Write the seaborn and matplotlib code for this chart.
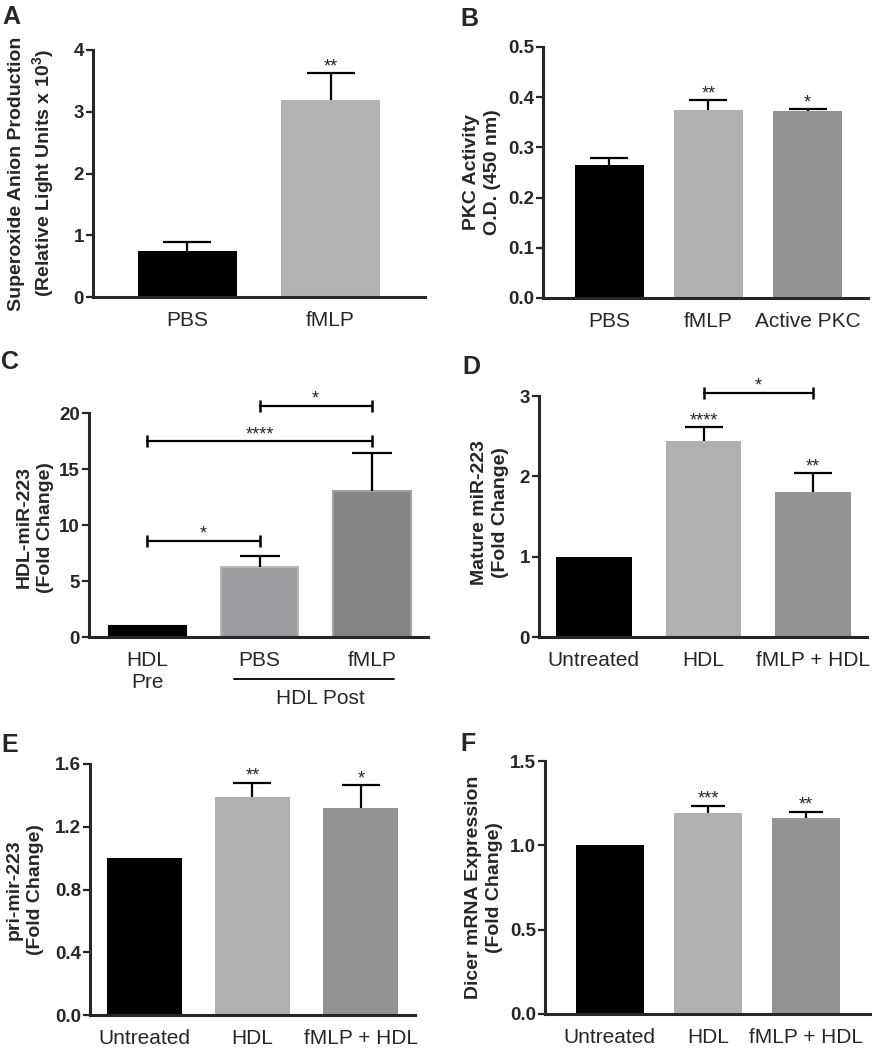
import numpy as np
import pandas as pd
import seaborn as sns
import matplotlib.pyplot as plt
import matplotlib.transforms as mtransforms

sns.set_style("ticks")
plt.rcParams['font.family'] = ['Liberation Sans', 'DejaVu Sans']
plt.rcParams['mathtext.fontset'] = 'custom'
plt.rcParams['mathtext.rm'] = 'Liberation Sans'
plt.rcParams['mathtext.bf'] = 'Liberation Sans:bold'

# A - superoxide anion production
a_groups = ["PBS", "fMLP"]
a_mean = [0.75, 3.19]
a_sem = [0.14, 0.43]
a_stars = ["", "**"]
a_colors = ["#000000", "#b2b2b4"]

# B - PKC activity
b_groups = ["PBS", "fMLP", "Active PKC"]
b_mean = [0.264, 0.375, 0.372]
b_sem = [0.014, 0.019, 0.004]
b_stars = ["", "**", "*"]
b_colors = ["#000000", "#b1b1b1", "#939393"]

# C - HDL-miR-223
c_groups = ["HDL\nPre", "PBS", "fMLP"]
c_mean = [1.0, 6.27, 13.04]
c_sem = [0.0, 0.95, 3.36]
c_stars = ["", "", ""]
c_colors = ["#000000", "#9c9ca0", "#858585"]
c_edges = ["#000000", "#b8b8b8", "#a3a3a3"]
c_brackets = [(1, 2, 20.66, "*"), (0, 2, 17.46, "****"), (0, 1, 8.6, "*")]

# D - mature miR-223
d_groups = ["Untreated", "HDL", "fMLP + HDL"]
d_mean = [1.0, 2.44, 1.80]
d_sem = [0.0, 0.17, 0.24]
d_stars = ["", "****", "**"]
d_colors = ["#000000", "#b0b0b2", "#939393"]
d_brackets = [(1, 2, 3.04, "*")]

# E - pri-mir-223
e_groups = ["Untreated", "HDL", "fMLP + HDL"]
e_mean = [1.0, 1.39, 1.32]
e_sem = [0.0, 0.09, 0.145]
e_stars = ["", "**", "*"]
e_colors = ["#000000", "#b0b0b2", "#939393"]

# F - Dicer mRNA
f_groups = ["Untreated", "HDL", "fMLP + HDL"]
f_mean = [1.0, 1.19, 1.16]
f_sem = [0.0, 0.045, 0.04]
f_stars = ["", "***", "**"]
f_colors = ["#000000", "#b0b0b2", "#939393"]


def draw_panel(ax, groups, means, sems, colors, stars, yticks, fmt, ylabel,
               label_x, label_y, xlim, capsize):
    df = pd.DataFrame({"group": groups, "value": means})
    sns.barplot(data=df, x="group", y="value", hue="group", order=groups,
                hue_order=groups, palette=colors, width=0.69, legend=False,
                saturation=1, errorbar=None, linewidth=0, ax=ax)
    for i, (m, s, st) in enumerate(zip(means, sems, stars)):
        if s > 0:
            eb = ax.errorbar(i, m, yerr=[[0], [s]], fmt="none", ecolor="black",
                             elinewidth=1.6, capsize=capsize, capthick=1.6,
                             zorder=3)
            # one-sided bar: hide the cap sitting on the bar top
            for cap in eb[1]:
                if np.allclose(cap.get_ydata(), m):
                    cap.set_visible(False)
        if st:
            ax.annotate(st, (i, m + s), xytext=(0, 1.5), textcoords="offset points",
                        ha="center", va="baseline", fontsize=13)
    ax.set_xlim(*xlim)
    ax.set_ylim(yticks[0], yticks[-1])
    ax.set_yticks(yticks)
    ax.set_yticklabels([fmt.format(t) for t in yticks], fontsize=13.5,
                       fontweight="bold")
    ax.set_xticks(range(len(groups)))
    ax.set_xticklabels(groups, fontsize=15)
    ax.tick_params(axis="x", length=0, pad=10)
    ax.tick_params(axis="y", length=5, width=1.6, pad=1.5)
    ax.set_xlabel("")
    ax.set_ylabel(ylabel, fontsize=14, fontweight="bold", linespacing=1.3)
    ax.yaxis.set_label_coords(label_x, label_y)
    sns.despine(ax=ax)
    for side in ["left", "bottom"]:
        ax.spines[side].set_linewidth(2.2)


def draw_brackets(ax, brackets):
    for x1, x2, y, st in brackets:
        ax.plot([x1, x2], [y, y], color="black", lw=1.6, marker="|",
                markersize=9, markeredgewidth=1.8, clip_on=False)
        ax.annotate(st, ((x1 + x2) / 2, y), xytext=(0, 1.5),
                    textcoords="offset points", ha="center", va="baseline",
                    fontsize=13, annotation_clip=False)


fig = plt.figure(figsize=(8.78, 10.5), dpi=100)
W, H = 878, 1050


def add_axes(left, right, top, bottom):
    return fig.add_axes([left / W, 1 - bottom / H, (right - left) / W,
                         (bottom - top) / H])


axA = add_axes(93, 425, 50, 297)
axB = add_axes(543, 868, 47, 298)
axC = add_axes(89, 428, 413, 637)
axD = add_axes(539, 867, 396, 637)
axE = add_axes(90, 415, 764, 1015)
axF = add_axes(545, 870, 761, 1014)

draw_panel(axA, a_groups, a_mean, a_sem, a_colors, a_stars, [0, 1, 2, 3, 4],
           "{:g}", "Superoxide Anion Production\n(Relative Light Units x 10$^{\\mathbf{3}}$)",
           -0.108, 0.5, (-0.66, 1.66), 17)
draw_panel(axB, b_groups, b_mean, b_sem, b_colors, b_stars,
           [0, 0.1, 0.2, 0.3, 0.4, 0.5], "{:.1f}", "PKC Activity\nO.D. (450 nm)",
           -0.13, 0.5, (-0.67, 2.61), 14)
draw_panel(axC, c_groups, c_mean, c_sem, c_colors, c_stars, [0, 5, 10, 15, 20],
           "{:g}", "HDL-miR-223\n(Fold Change)", -0.104, 0.49, (-0.52, 2.5), 14.4)
for patch, ec in zip(axC.patches, c_edges):
    patch.set_edgecolor(ec)
    patch.set_linewidth(1.5)
draw_brackets(axC, c_brackets)
trans = mtransforms.blended_transform_factory(axC.transData, axC.transAxes)
axC.plot([0.77, 2.2], [-0.1875, -0.1875], color="black", lw=1.3,
         transform=trans, clip_on=False)
axC.text(1.54, -0.275, "HDL Post", transform=trans, ha="center", va="center",
         fontsize=15)

draw_panel(axD, d_groups, d_mean, d_sem, d_colors, d_stars, [0, 1, 2, 3],
           "{:g}", "Mature miR-223\n(Fold Change)", -0.092, 0.517, (-0.5, 2.49), 13.6)
draw_brackets(axD, d_brackets)
draw_panel(axE, e_groups, e_mean, e_sem, e_colors, e_stars,
           [0, 0.4, 0.8, 1.2, 1.6], "{:.1f}", "pri-mir-223\n(Fold Change)",
           -0.142, 0.5, (-0.5, 2.5), 13.5)
draw_panel(axF, f_groups, f_mean, f_sem, f_colors, f_stars,
           [0, 0.5, 1.0, 1.5], "{:.1f}", "Dicer mRNA Expression\n(Fold Change)",
           -0.13, 0.5, (-0.66, 2.65), 12.4)

for lab, x, y in [("A", 2, 5), ("B", 460, 7), ("C", 1, 350), ("D", 462, 355),
                  ("E", 1, 733), ("F", 460, 732)]:
    fig.text(x / W, 1 - y / H, lab, ha="left", va="top", fontsize=18,
             fontweight="bold")

fig.savefig("out.png", dpi=100)
